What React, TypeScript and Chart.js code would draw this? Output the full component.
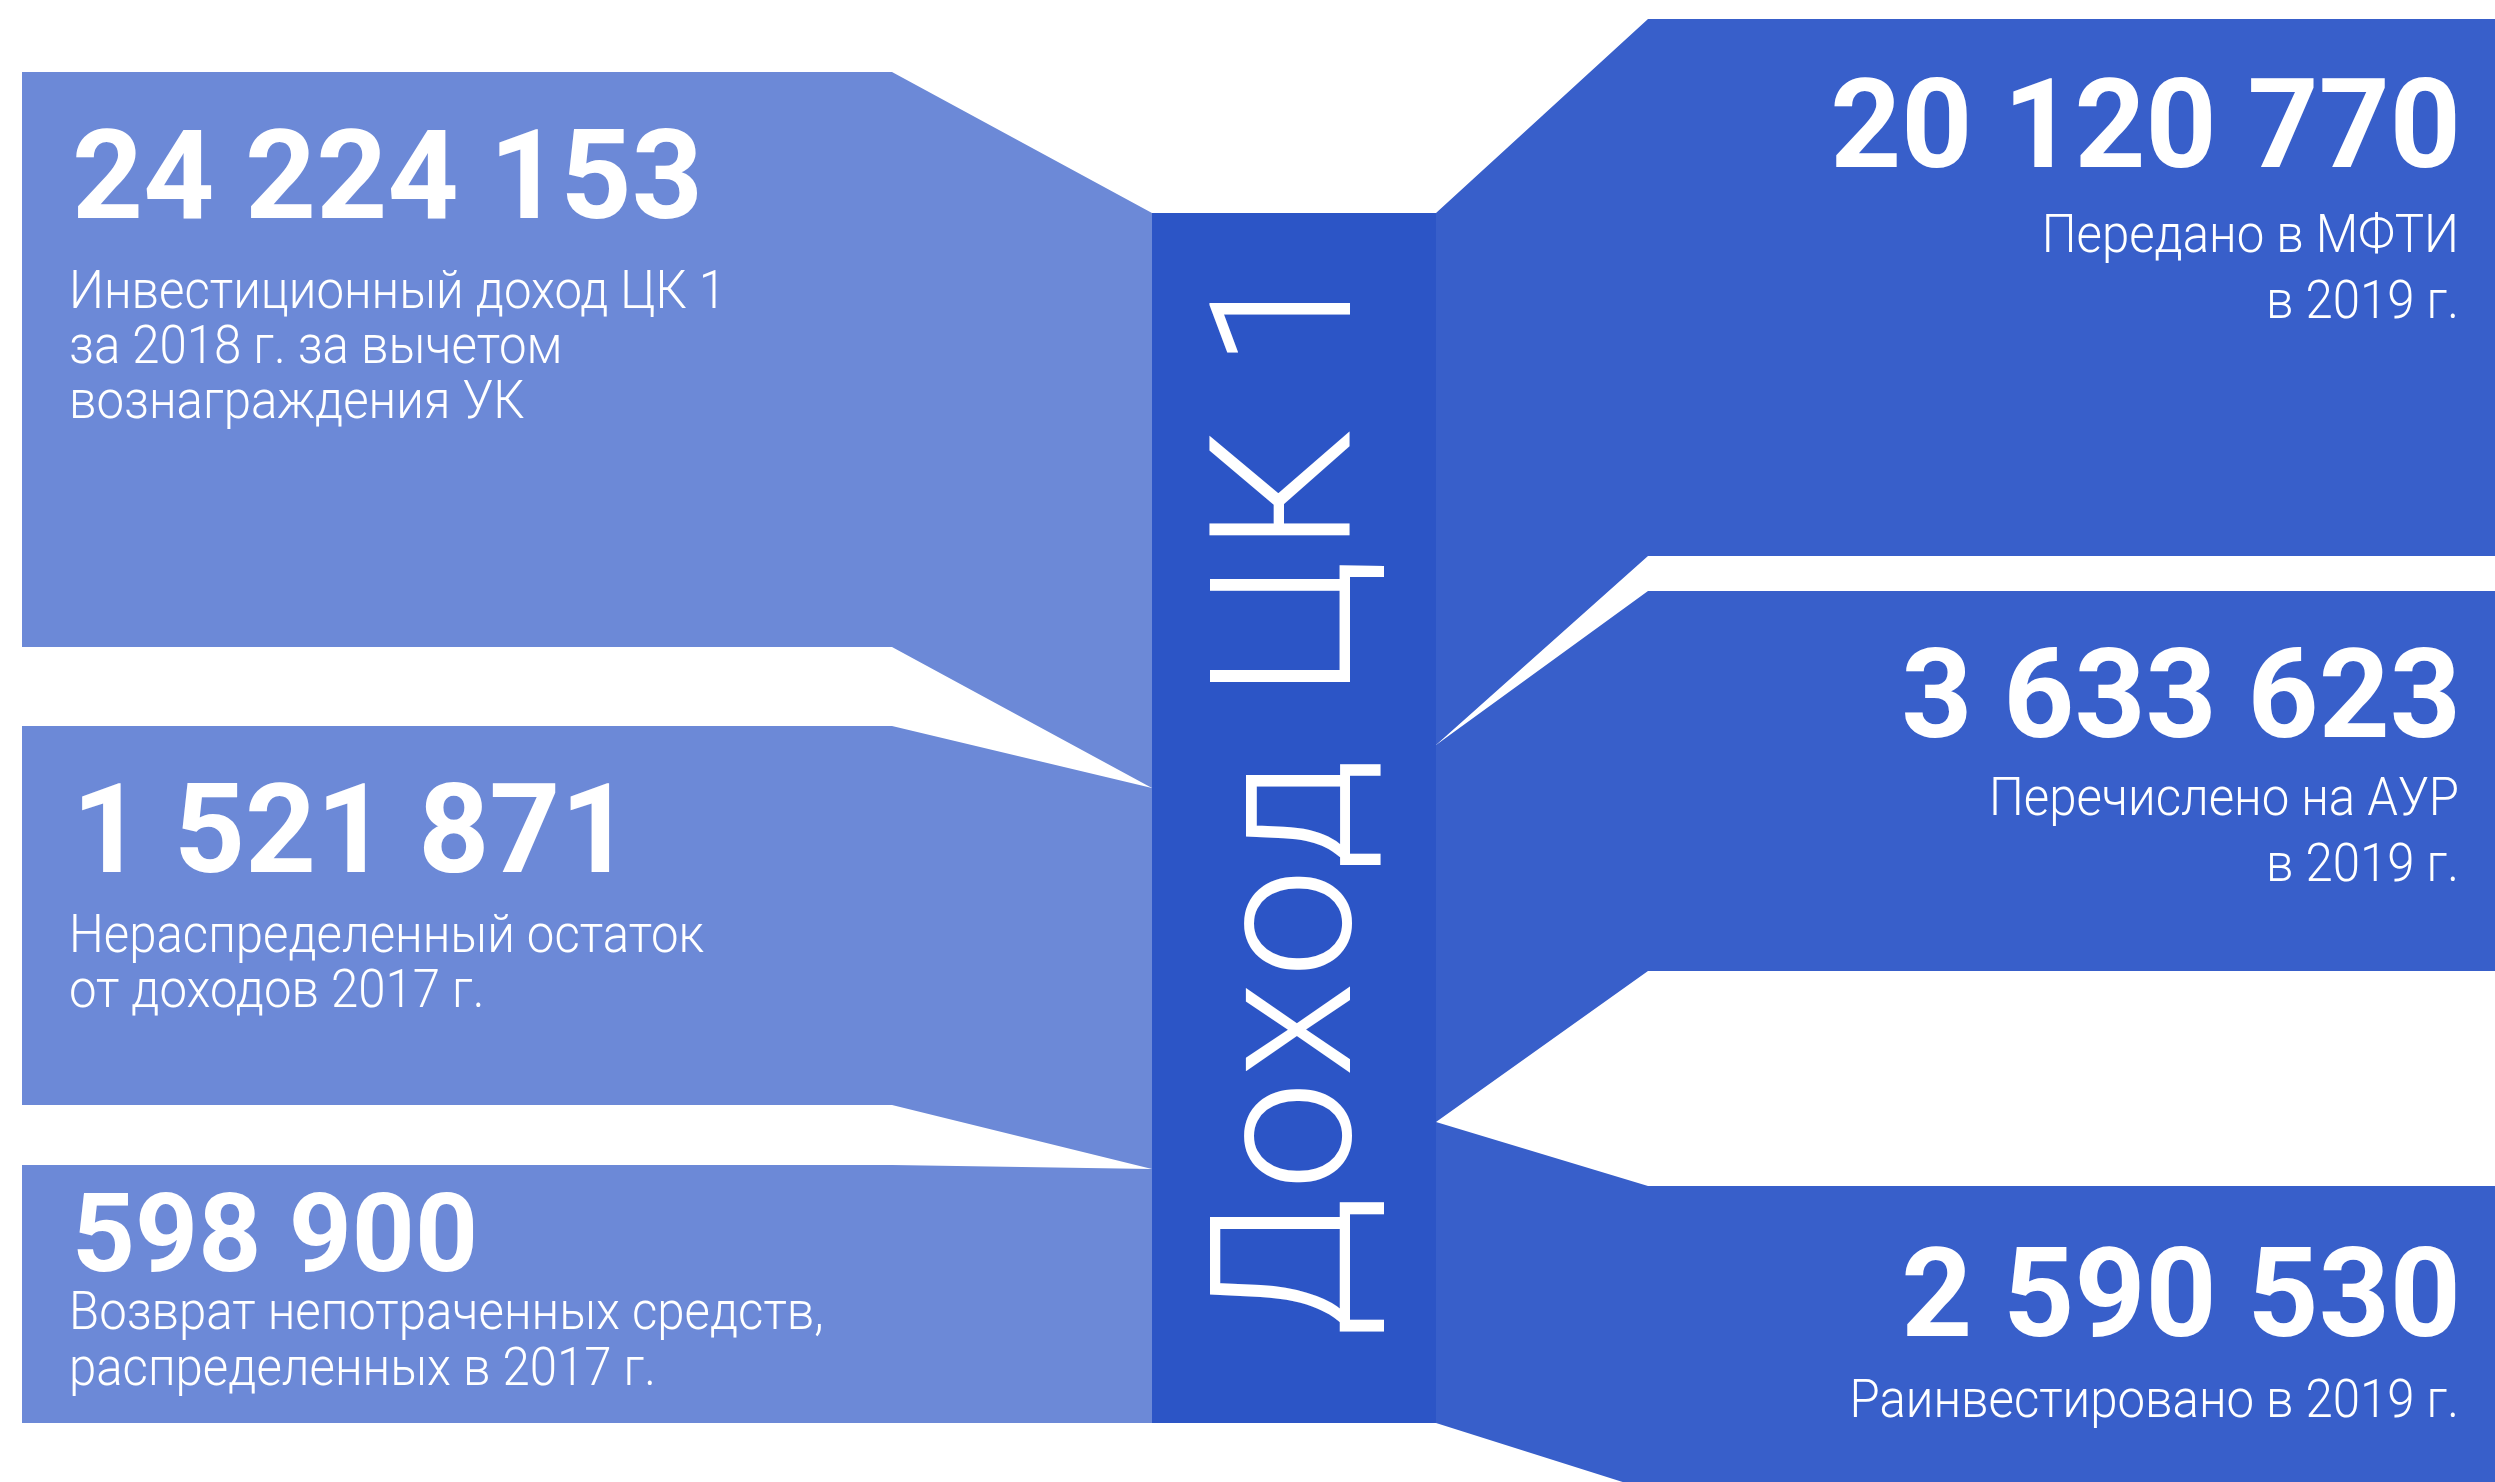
import { useEffect, useRef } from 'react';
import { Chart, registerables } from 'chart.js';

Chart.register(...registerables);

// --- data ---
const nodeLabel = 'Доход ЦК 1';

const sourceValues = [24224153, 1521871, 598900];
const sourceLabels = [
  ['Инвестиционный доход ЦК 1', 'за 2018 г. за вычетом', 'вознаграждения УК'],
  ['Нераспределенный остаток', 'от доходов 2017 г.'],
  ['Возврат непотраченных средств,', 'распределенных в 2017 г.'],
];

const targetValues = [20120770, 3633623, 2590530];
const targetLabels = [
  ['Передано в МФТИ', 'в 2019 г.'],
  ['Перечислено на АУР', 'в 2019 г.'],
  ['Раинвестировано в 2019 г.'],
];

// band extents in layout units (y grows downwards)
const stageX = [22, 892, 1152, 1436, 1648, 2495];
const sourceOuterTop = [72, 726, 1165];
const sourceOuterBottom = [647, 1105, 1423];
const sourceInnerTop = [213, 788, 1169];
const sourceInnerBottom = [788, 1169, 1423];
const nodeTop = 213;
const nodeBottom = 1423;
const targetInnerTop = [213, 745, 1122];
const targetInnerBottom = [745, 1122, 1423];
const targetOuterTop = [19, 591, 1186];
const targetOuterBottom = [556, 971, 1490];

// --- styling / text layout ---
const W = 2495;
const H = 1482;
const SOURCE_COLOR = '#6c89d7';
const NODE_COLOR = '#2c55c6';
const TARGET_COLOR = '#385fca';
const FONT = 'Roboto, "Noto Sans", sans-serif';
const LABEL_SQUEEZE = 0.91; // DIN-like narrow light text

const sourceTextX = 72;
const sourceValueY = [218, 872, 1271];
const sourceValueSize = [124, 124, 110];
const sourceLabelY = [308, 952, 1329];
const sourceLineGap = [55, 55, 56];

const targetTextX = 2461;
const targetValueY = [167, 737, 1336];
const targetLabelY = [252, 815, 1417];
const targetLineGap = 66;

const nodeTextX = 1350;
const nodeTextY = 797;

const fmt = (v: number) => String(v).replace(/\B(?=(\d{3})+(?!\d))/g, ' ');

type Pt = { x: number; y: number };

function bandDatasets(top: Pt[], bottom: Pt[], color: string) {
  const common = {
    showLine: true,
    pointRadius: 0,
    pointHoverRadius: 0,
    borderWidth: 0,
    borderColor: 'rgba(0,0,0,0)',
    backgroundColor: color,
    tension: 0,
  };
  return [
    { ...common, data: top, fill: '+1' },
    { ...common, data: bottom, fill: false },
  ];
}

function squeezedText(ctx: CanvasRenderingContext2D, text: string, x: number, y: number) {
  ctx.save();
  ctx.translate(x, y);
  ctx.scale(LABEL_SQUEEZE, 1);
  ctx.fillText(text, 0, 0);
  ctx.restore();
}

const textPlugin = {
  id: 'flowText',
  afterDatasetsDraw(chart: any) {
    const { ctx } = chart;
    const xs = chart.scales.x;
    const ys = chart.scales.y;
    const px = (v: number) => xs.getPixelForValue(v);
    const py = (v: number) => ys.getPixelForValue(v);

    ctx.save();
    ctx.fillStyle = '#ffffff';
    ctx.textBaseline = 'alphabetic';

    // left side
    ctx.textAlign = 'left';
    sourceValues.forEach((v, i) => {
      ctx.font = `700 ${sourceValueSize[i]}px ${FONT}`;
      ctx.fillText(fmt(v), px(sourceTextX), py(sourceValueY[i]));
      ctx.font = `300 54px ${FONT}`;
      sourceLabels[i].forEach((line, j) => {
        squeezedText(ctx, line, px(sourceTextX - 3), py(sourceLabelY[i] + j * sourceLineGap[i]));
      });
    });

    // right side
    ctx.textAlign = 'right';
    targetValues.forEach((v, i) => {
      ctx.font = `700 124px ${FONT}`;
      ctx.fillText(fmt(v), px(targetTextX), py(targetValueY[i]));
      ctx.font = `300 54px ${FONT}`;
      targetLabels[i].forEach((line, j) => {
        squeezedText(ctx, line, px(targetTextX - 2), py(targetLabelY[i] + j * targetLineGap));
      });
    });

    // vertical node title
    ctx.translate(px(nodeTextX), py(nodeTextY));
    ctx.rotate(-Math.PI / 2);
    ctx.textAlign = 'center';
    ctx.font = `300 197px ${FONT}`;
    ctx.letterSpacing = '5px';
    ctx.fillText(nodeLabel, 0, 0);
    ctx.restore();
  },
};

export default function App() {
  const canvasRef = useRef<HTMLCanvasElement>(null);
  const chartRef = useRef<Chart | null>(null);

  useEffect(() => {
    document.body.style.margin = '0';
    if (!canvasRef.current) return;

    const datasets: any[] = [];
    sourceValues.forEach((_, i) => {
      datasets.push(
        ...bandDatasets(
          [
            { x: stageX[0], y: sourceOuterTop[i] },
            { x: stageX[1], y: sourceOuterTop[i] },
            { x: stageX[2], y: sourceInnerTop[i] },
          ],
          [
            { x: stageX[0], y: sourceOuterBottom[i] },
            { x: stageX[1], y: sourceOuterBottom[i] },
            { x: stageX[2], y: sourceInnerBottom[i] },
          ],
          SOURCE_COLOR
        )
      );
    });
    datasets.push(
      ...bandDatasets(
        [
          { x: stageX[2], y: nodeTop },
          { x: stageX[3], y: nodeTop },
        ],
        [
          { x: stageX[2], y: nodeBottom },
          { x: stageX[3], y: nodeBottom },
        ],
        NODE_COLOR
      )
    );
    targetValues.forEach((_, i) => {
      datasets.push(
        ...bandDatasets(
          [
            { x: stageX[3], y: targetInnerTop[i] },
            { x: stageX[4], y: targetOuterTop[i] },
            { x: stageX[5], y: targetOuterTop[i] },
          ],
          [
            { x: stageX[3], y: targetInnerBottom[i] },
            { x: stageX[4], y: targetOuterBottom[i] },
            { x: stageX[5], y: targetOuterBottom[i] },
          ],
          TARGET_COLOR
        )
      );
    });

    chartRef.current = new Chart(canvasRef.current, {
      type: 'scatter',
      data: { datasets },
      options: {
        responsive: false,
        animation: false,
        devicePixelRatio: 1,
        layout: { padding: 0 },
        plugins: {
          legend: { display: false },
          tooltip: { enabled: false },
        },
        events: [],
        scales: {
          x: { type: 'linear', min: 0, max: W, display: false },
          y: { type: 'linear', min: 0, max: H, reverse: true, display: false },
        },
      },
      plugins: [textPlugin],
    });

    return () => {
      if (chartRef.current) {
        chartRef.current.destroy();
        chartRef.current = null;
      }
    };
  }, []);

  return (
    <div style={{ width: W, height: H, background: '#ffffff' }}>
      <canvas ref={canvasRef} width={W} height={H} />
    </div>
  );
}
